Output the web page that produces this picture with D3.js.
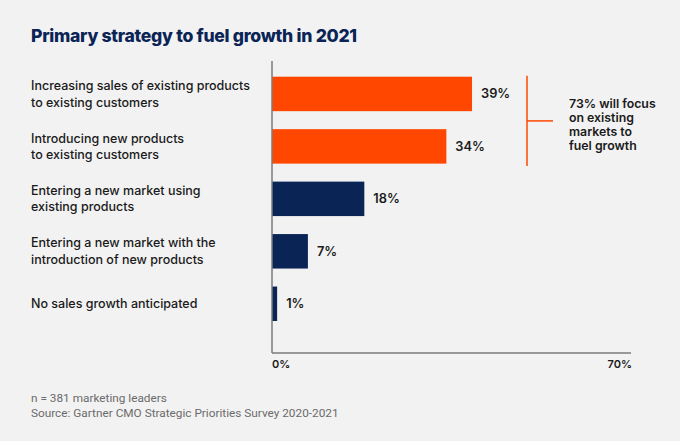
<!DOCTYPE html>
<html>
<head>
<meta charset="utf-8">
<script src="https://cdn.jsdelivr.net/npm/d3@7"></script>
<style>
  body { margin: 0; background: #f2f2f2; }
  svg { display: block; }
</style>
</head>
<body>
<svg id="chart"></svg>
<script>
//////////
// Data //
//////////
const categories = [
  ["Increasing sales of existing products", "to existing customers"],
  ["Introducing new products", "to existing customers"],
  ["Entering a new market using", "existing products"],
  ["Entering a new market with the", "introduction of new products"],
  ["No sales growth anticipated"]
];
const values = [39, 34, 18, 7, 1];
const highlighted = [true, true, false, false, false];
const xTicks = [0, 70];
const title = "Primary strategy to fuel growth in 2021";
const note = ["73% will focus", "on existing", "markets to", "fuel growth"];
const footer = ["n = 381 marketing leaders", "Source: Gartner CMO Strategic Priorities Survey 2020-2021"];

/////////////////////////
// Chart specifications //
/////////////////////////
const width = 680, height = 441;
const margin = { top: 61, left: 272, right: 49, bottom: 88 };
const orange = "#ff4700", navy = "#0a2456", ink = "#1a1a1a";
const font = "Inter, 'Noto Sans', sans-serif";

const svg = d3.select("#chart").attr("width", width).attr("height", height);
svg.append("rect").attr("width", width).attr("height", height).attr("fill", "#f2f2f2");

const data = values.map((v, i) => ({ label: categories[i], value: v, hi: highlighted[i] }));

const x = d3.scaleLinear().domain([0, 70]).range([margin.left, width - margin.right]);
const y = d3.scaleBand()
  .domain(d3.range(data.length))
  .range([76.7, 321])
  .paddingInner(0.343)
  .paddingOuter(0);

// title
svg.append("text")
  .attr("x", 31).attr("y", 42)
  .attr("font-family", font).attr("font-weight", 800).attr("font-size", 17.6)
  .attr("fill", navy)
  .attr("letter-spacing", -0.3)
  .text(title);

// bars
svg.append("g").selectAll("rect")
  .data(data)
  .join("rect")
  .attr("x", x(0))
  .attr("y", (d, i) => y(i))
  .attr("width", d => x(d.value) - x(0))
  .attr("height", y.bandwidth())
  .attr("fill", d => d.hi ? orange : navy);

// value labels
svg.append("g").selectAll("text")
  .data(data)
  .join("text")
  .attr("x", d => x(d.value) + 9)
  .attr("y", (d, i) => y(i) + y.bandwidth() / 2)
  .attr("dy", "0.35em")
  .attr("font-family", font).attr("font-weight", 600).attr("font-size", 12.8)
  .attr("fill", ink)
  .text(d => d.value + "%");

// category labels
const lineH = 16.5;
svg.append("g").selectAll("text")
  .data(data)
  .join("text")
  .attr("font-family", font).attr("font-weight", 500).attr("font-size", 12.5)
  .attr("fill", ink)
  .each(function (d, i) {
    const cy = y(i) + y.bandwidth() / 2 - ((d.label.length - 1) * lineH) / 2;
    d3.select(this).selectAll("tspan")
      .data(d.label)
      .join("tspan")
      .attr("x", 31)
      .attr("y", (t, j) => cy + j * lineH)
      .attr("dy", "0.35em")
      .text(t => t);
  });

// axes (plain lines, no tick marks)
const axisG = svg.append("g").attr("stroke", "#7a7a7a").attr("stroke-width", 1.5);
axisG.append("line")
  .attr("x1", x(0)).attr("x2", x(0))
  .attr("y1", margin.top).attr("y2", height - margin.bottom);
axisG.append("line")
  .attr("x1", x(0)).attr("x2", x(70))
  .attr("y1", height - margin.bottom).attr("y2", height - margin.bottom);

svg.append("g").selectAll("text")
  .data(xTicks)
  .join("text")
  .attr("x", d => x(d) + (d === 0 ? 0 : 1))
  .attr("y", height - margin.bottom + 11)
  .attr("dy", "0.35em")
  .attr("text-anchor", (d, i) => i === 0 ? "start" : "end")
  .attr("font-family", font).attr("font-weight", 600).attr("font-size", 11)
  .attr("fill", ink)
  .text(d => d + "%");

// bracket for the two orange bars
const bx = 527;
const bTop = y(0) - 1, bBot = y(1) + y.bandwidth() + 2.5;
const bracket = svg.append("g").attr("stroke", orange).attr("stroke-width", 1.5).attr("fill", "none");
bracket.append("line").attr("x1", bx).attr("x2", bx).attr("y1", bTop).attr("y2", bBot);
bracket.append("line").attr("x1", bx).attr("x2", bx + 26)
  .attr("y1", (bTop + bBot) / 2).attr("y2", (bTop + bBot) / 2);

svg.append("text")
  .attr("font-family", font).attr("font-weight", 600).attr("font-size", 12.3)
  .attr("fill", ink)
  .selectAll("tspan")
  .data(note)
  .join("tspan")
  .attr("x", 569)
  .attr("y", (d, i) => 103.3 + i * 14.2)
  .attr("dy", "0.35em")
  .text(d => d);

// footer
svg.append("text")
  .attr("font-family", "Roboto, sans-serif").attr("font-weight", 400).attr("font-size", 11.8)
  .attr("fill", "#6b6b6b")
  .selectAll("tspan")
  .data(footer)
  .join("tspan")
  .attr("x", 31)
  .attr("y", (d, i) => 398.3 + i * 15)
  .attr("dy", "0.35em")
  .text(d => d);
</script>
</body>
</html>
